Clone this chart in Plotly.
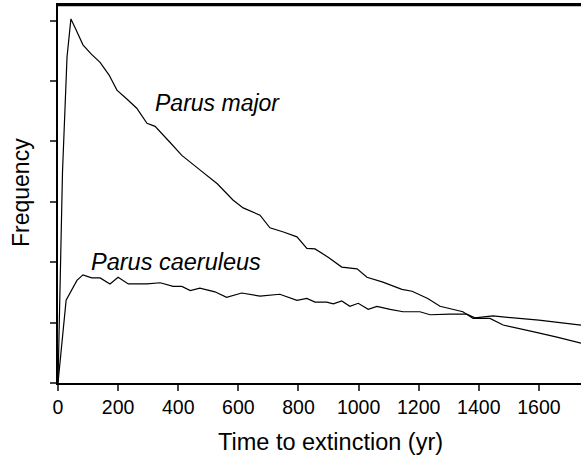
import plotly.graph_objects as go

major_t = [0, 15, 30, 43, 60, 83, 110, 140, 170, 196, 230, 262, 296, 323, 370, 412, 472, 530, 582, 616, 672, 705, 750, 795, 828, 855, 900, 944, 995, 1028, 1081, 1144, 1178, 1230, 1271, 1347, 1381, 1437, 1481, 1530, 1580, 1660, 1740]
major_v = [0.0, 3.5, 5.4, 6.03, 5.85, 5.6, 5.45, 5.31, 5.1, 4.85, 4.7, 4.55, 4.3, 4.25, 4.0, 3.77, 3.53, 3.3, 3.03, 2.9, 2.78, 2.57, 2.5, 2.42, 2.23, 2.22, 2.08, 1.92, 1.89, 1.75, 1.67, 1.55, 1.52, 1.4, 1.27, 1.18, 1.07, 1.07, 0.96, 0.9, 0.85, 0.76, 0.66]

caer_t = [0, 27, 63, 83, 112, 140, 173, 200, 234, 296, 340, 383, 412, 440, 472, 522, 561, 611, 672, 738, 795, 828, 855, 894, 916, 944, 971, 999, 1032, 1061, 1105, 1148, 1204, 1238, 1304, 1360, 1387, 1447, 1600, 1740]
caer_v = [0.0, 1.37, 1.7, 1.79, 1.74, 1.74, 1.64, 1.75, 1.64, 1.64, 1.66, 1.6, 1.6, 1.53, 1.57, 1.51, 1.42, 1.49, 1.44, 1.47, 1.37, 1.4, 1.34, 1.34, 1.31, 1.36, 1.27, 1.32, 1.22, 1.27, 1.22, 1.18, 1.18, 1.13, 1.14, 1.14, 1.08, 1.11, 1.04, 0.96]

x_ticks = [0, 200, 400, 600, 800, 1000, 1200, 1400, 1600]
y_ticks = [0, 1, 2, 3, 4, 5, 6]

FONT = "Liberation Sans, Arial, sans-serif"

fig = go.Figure()
fig.add_trace(go.Scatter(x=major_t, y=major_v, mode="lines",
                         line=dict(color="black", width=1.2), showlegend=False))
fig.add_trace(go.Scatter(x=caer_t, y=caer_v, mode="lines",
                         line=dict(color="black", width=1.2), showlegend=False))

fig.add_annotation(x=529, y=4.64, text="<i>Parus major</i>", showarrow=False,
                   font=dict(family=FONT, size=23, color="black"))
fig.add_annotation(x=393, y=2.0, text="<i>Parus caeruleus</i>", showarrow=False,
                   font=dict(family=FONT, size=23.5, color="black"))

# axis titles
fig.add_annotation(xref="paper", yref="paper", x=(330 - 58) / (581 - 58), y=-(442 - 383) / (383 - 5),
                   text="Time to extinction (yr)", showarrow=False, yanchor="middle",
                   font=dict(family=FONT, size=23.5, color="black"))
fig.add_annotation(xref="paper", yref="paper", x=-(58 - 21) / (581 - 58), y=(383 - 193) / (383 - 5),
                   text="Frequency", showarrow=False, textangle=-90, xanchor="center",
                   font=dict(family=FONT, size=23, color="black"))

# top frame line
fig.add_shape(type="line", xref="paper", yref="paper", x0=-0.002, x1=1.0, y0=1.0, y1=1.0,
              layer="above", line=dict(color="#000000", width=2.5))

fig.update_layout(
    width=581, height=465,
    margin=dict(l=58, r=0, t=5, b=82),
    plot_bgcolor="white", paper_bgcolor="white",
    font=dict(family=FONT, size=19.5, color="black"),
    xaxis=dict(range=[0, 1740], tickvals=x_ticks, ticks="outside", ticklen=6, tickwidth=1.5,
               showline=True, linewidth=2, linecolor="black", mirror=True,
               showgrid=False, zeroline=False,
               tickfont=dict(size=19.5), automargin=False),
    yaxis=dict(range=[0, 6.26], tickvals=y_ticks, ticktext=[""] * len(y_ticks),
               ticks="outside", ticklen=6, tickwidth=1.5,
               showline=True, linewidth=2, linecolor="black", showgrid=False, zeroline=False,
               automargin=False),
)

fig.write_html("out.html", config={"displayModeBar": False},
               post_script="document.body.style.margin='0';document.body.style.overflow='hidden';")
